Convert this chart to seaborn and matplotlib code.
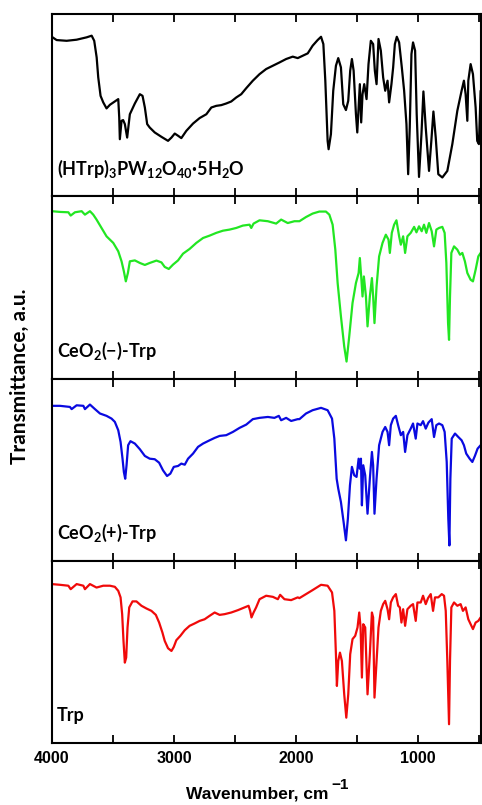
"""
Stacked FTIR spectra: (HTrp)3PW12O40.5H2O, CeO2(-)-Trp, CeO2(+)-Trp and Trp.
"""

import pandas as pd
import seaborn as sns
import matplotlib.pyplot as plt
from matplotlib.ticker import MultipleLocator

# wavenumber (cm-1) / transmittance (a.u., 0-100 per panel)
htrp_wn = [4002, 3962, 3880, 3798, 3716, 3675, 3654, 3634, 3621, 3602, 3580, 3553, 3525,
           3485, 3457, 3449, 3444, 3430, 3417, 3403, 3384, 3362, 3321, 3280, 3258, 3239,
           3220, 3199, 3158, 3103, 3049, 3021, 2994, 2967, 2940, 2899, 2844, 2790, 2735,
           2694, 2654, 2613, 2572, 2531, 2490, 2449, 2408, 2354, 2299, 2245, 2190, 2136,
           2081, 2027, 1986, 1945, 1904, 1864, 1823, 1795, 1776, 1760, 1741, 1733, 1714,
           1695, 1673, 1654, 1632, 1613, 1591, 1572, 1556, 1542, 1528, 1509, 1498, 1487,
           1477, 1466, 1455, 1441, 1422, 1406, 1387, 1368, 1354, 1340, 1324, 1305, 1286,
           1269, 1250, 1237, 1218, 1204, 1190, 1174, 1155, 1133, 1114, 1095, 1081, 1068,
           1054, 1041, 1024, 1011, 992, 972, 956, 937, 910, 891, 874, 855, 834, 801, 760,
           719, 678, 643, 624, 610, 596, 588, 569, 550, 528, 515, 501, 487]
htrp_t = [87.5, 85.7, 85.3, 85.9, 87.2, 88.1, 85.3, 76.2, 65.2, 55.1, 51.5, 48.2, 50.2,
          52.0, 53.3, 43.2, 31.3, 41.4, 41.8, 39.6, 32.2, 45.0, 50.9, 56.0, 55.1, 48.7,
          39.6, 37.7, 35.0, 32.6, 30.4, 32.2, 34.4, 33.2, 31.9, 35.9, 39.9, 42.9, 45.0,
          48.7, 49.6, 50.0, 50.9, 52.0, 54.2, 56.0, 59.3, 63.4, 67.0, 69.8, 71.6, 73.4,
          75.3, 76.6, 75.8, 77.1, 78.4, 82.6, 85.7, 87.5, 83.5, 63.4, 30.4, 25.8, 34.1,
          57.9, 71.6, 75.8, 70.7, 50.5, 47.3, 52.4, 68.9, 75.3, 68.9, 45.0, 35.0, 48.7,
          61.5, 40.5, 56.0, 61.5, 53.3, 72.5, 85.3, 83.5, 68.9, 61.5, 86.3, 79.9, 65.2,
          57.9, 63.4, 51.5, 61.5, 70.7, 83.5, 87.5, 84.4, 70.7, 57.9, 39.6, 12.1, 37.7,
          78.0, 84.4, 79.9, 45.0, 10.6, 34.1, 57.5, 37.7, 13.9, 30.4, 46.5, 32.2, 12.1,
          10.3, 13.9, 28.6, 46.9, 57.9, 63.4, 56.0, 41.4, 63.4, 72.5, 67.0, 48.7, 30.4,
          28.6, 57.9]

ceo2_neg_wn = [4002, 3934, 3866, 3847, 3812, 3757, 3730, 3689, 3662, 3635, 3594, 3553, 3498,
               3457, 3430, 3411, 3395, 3378, 3362, 3321, 3280, 3239, 3199, 3144, 3103, 3076,
               3043, 3008, 2967, 2926, 2872, 2817, 2762, 2708, 2654, 2599, 2545, 2490, 2436,
               2381, 2367, 2348, 2299, 2231, 2163, 2122, 2068, 2013, 1972, 1918, 1864, 1809,
               1755, 1727, 1700, 1678, 1659, 1632, 1605, 1586, 1564, 1537, 1509, 1487, 1477,
               1466, 1455, 1444, 1427, 1414, 1395, 1378, 1368, 1357, 1340, 1319, 1291, 1264,
               1242, 1231, 1215, 1196, 1177, 1155, 1141, 1122, 1106, 1087, 1060, 1032, 1013,
               992, 970, 951, 932, 910, 888, 869, 850, 828, 801, 782, 768, 754, 746, 738,
               727, 705, 678, 656, 637, 616, 596, 569, 550, 528, 506, 487]
ceo2_neg_t = [91.8, 91.4, 91.2, 89.4, 91.2, 91.8, 89.9, 91.8, 89.9, 87.2, 82.6, 78.0, 74.4,
              69.8, 64.3, 58.8, 53.3, 57.9, 64.3, 64.8, 63.4, 62.3, 63.4, 64.7, 63.7, 61.2,
              60.1, 62.5, 64.8, 68.5, 71.1, 74.4, 77.1, 78.4, 79.9, 81.1, 81.7, 82.6, 83.9,
              84.4, 82.6, 85.0, 86.8, 86.3, 85.0, 87.2, 85.3, 86.3, 86.3, 88.6, 90.5, 91.6,
              91.6, 89.9, 84.4, 70.7, 52.4, 34.1, 17.6, 9.3, 23.1, 41.4, 52.4, 57.9, 66.1,
              56.0, 45.0, 56.0, 45.0, 28.6, 45.0, 55.1, 45.0, 30.4, 50.5, 67.0, 74.4, 78.9,
              76.2, 68.9, 79.9, 84.4, 86.8, 78.0, 73.4, 78.0, 68.9, 78.0, 79.9, 83.2, 80.2,
              83.5, 80.8, 84.4, 79.9, 85.3, 80.8, 72.5, 81.7, 82.6, 83.2, 79.9, 63.4, 30.4,
              21.2, 45.0, 68.9, 72.5, 70.7, 67.9, 68.9, 64.3, 57.9, 54.2, 53.3, 59.7, 67.0,
              68.9]

ceo2_pos_wn = [4002, 3934, 3853, 3839, 3798, 3743, 3730, 3689, 3648, 3607, 3553, 3512, 3485,
               3457, 3438, 3422, 3411, 3400, 3389, 3376, 3357, 3321, 3280, 3239, 3199, 3158,
               3122, 3090, 3057, 3030, 3002, 2967, 2940, 2912, 2885, 2844, 2803, 2762, 2708,
               2667, 2626, 2572, 2517, 2463, 2408, 2354, 2299, 2231, 2177, 2141, 2122, 2081,
               2040, 1986, 1972, 1918, 1864, 1795, 1741, 1705, 1686, 1667, 1654, 1632, 1610,
               1591, 1575, 1558, 1542, 1523, 1504, 1487, 1477, 1468, 1460, 1449, 1433, 1414,
               1395, 1378, 1368, 1357, 1340, 1319, 1291, 1269, 1250, 1237, 1223, 1204, 1182,
               1163, 1141, 1122, 1106, 1087, 1060, 1041, 1019, 1005, 978, 959, 937, 915, 888,
               869, 850, 828, 801, 782, 765, 752, 743, 735, 724, 697, 670, 643, 624, 605, 577,
               555, 534, 512, 487]
ceo2_pos_t = [85.0, 85.0, 84.4, 83.2, 85.3, 85.0, 83.2, 85.7, 83.2, 80.8, 79.5, 78.0, 76.2,
              71.6, 65.2, 56.0, 48.7, 45.0, 52.4, 63.4, 65.6, 64.3, 61.2, 57.5, 56.0, 55.7,
              53.8, 49.6, 46.5, 47.8, 51.5, 52.0, 53.3, 52.7, 56.0, 58.8, 62.5, 64.3, 66.1,
              67.4, 68.5, 68.9, 70.7, 72.9, 74.7, 77.7, 78.4, 78.9, 78.4, 79.5, 77.1, 78.4,
              76.7, 77.7, 77.7, 80.8, 82.6, 83.9, 82.6, 78.0, 67.0, 45.0, 39.6, 32.2, 21.2,
              11.2, 23.1, 41.4, 51.5, 46.9, 46.0, 56.0, 50.5, 56.0, 30.4, 52.4, 46.9, 25.8,
              45.0, 59.7, 52.4, 25.8, 45.0, 63.4, 70.7, 73.4, 70.7, 63.4, 74.4, 78.0, 79.5,
              74.4, 68.9, 70.7, 59.7, 68.9, 72.5, 75.3, 67.0, 75.3, 74.4, 76.6, 72.5, 75.8,
              77.7, 67.9, 74.4, 75.3, 74.4, 70.7, 54.2, 23.1, 8.4, 45.0, 67.0, 69.8, 67.9,
              66.1, 63.4, 58.8, 56.0, 54.2, 57.5, 61.5, 63.4]

trp_wn = [4002, 3934, 3866, 3847, 3798, 3743, 3730, 3689, 3635, 3580, 3525, 3485, 3457,
          3438, 3425, 3414, 3403, 3392, 3381, 3367, 3340, 3308, 3267, 3226, 3185, 3149,
          3122, 3095, 3076, 3049, 3021, 3002, 2981, 2948, 2912, 2872, 2831, 2790, 2749,
          2708, 2667, 2626, 2585, 2531, 2476, 2422, 2389, 2376, 2365, 2348, 2327, 2299,
          2245, 2190, 2149, 2130, 2095, 2040, 1986, 1972, 1918, 1864, 1795, 1741, 1705,
          1686, 1673, 1665, 1654, 1640, 1624, 1605, 1588, 1572, 1556, 1537, 1515, 1496,
          1482, 1471, 1460, 1449, 1433, 1414, 1395, 1378, 1368, 1357, 1340, 1324, 1305,
          1286, 1269, 1250, 1237, 1223, 1204, 1182, 1163, 1149, 1136, 1122, 1106, 1087,
          1060, 1041, 1019, 1005, 978, 959, 937, 918, 896, 877, 861, 834, 806, 787, 773,
          760, 746, 738, 727, 705, 678, 651, 632, 610, 588, 569, 550, 528, 506, 487]
trp_t = [87.2, 86.8, 86.3, 84.4, 87.2, 86.3, 84.4, 87.2, 85.3, 86.3, 86.3, 85.7, 83.5,
         79.9, 70.7, 56.0, 44.1, 46.9, 63.4, 74.4, 77.7, 77.7, 75.3, 73.8, 72.5, 70.3,
         66.1, 60.6, 56.0, 52.0, 50.5, 52.7, 56.4, 58.8, 61.9, 64.3, 65.6, 67.0, 67.9,
         69.8, 71.6, 70.3, 70.7, 71.6, 72.9, 74.4, 75.3, 72.5, 68.9, 71.6, 74.4, 78.9,
         80.8, 80.2, 78.9, 81.3, 78.9, 78.4, 79.9, 79.5, 81.7, 83.9, 86.8, 86.3, 82.6,
         72.5, 48.7, 31.3, 45.0, 49.6, 45.0, 26.7, 13.9, 26.7, 48.7, 57.0, 58.8, 63.4,
         71.6, 63.4, 35.9, 65.2, 63.4, 26.7, 48.7, 71.6, 68.9, 24.9, 45.0, 63.4, 72.5,
         76.2, 78.0, 73.4, 67.9, 77.1, 79.9, 81.7, 75.3, 74.4, 66.1, 73.4, 64.3, 73.4,
         75.3, 76.2, 67.0, 77.1, 77.1, 80.8, 76.2, 79.5, 81.7, 72.5, 79.9, 79.9, 81.7,
         80.8, 72.5, 45.0, 10.3, 45.0, 74.4, 77.1, 75.3, 76.2, 72.5, 74.4, 67.9, 65.2,
         62.5, 66.1, 67.0, 68.9]

labels = ["(HTrp)$_3$PW$_{12}$O$_{40}$\u00b75H$_2$O", "CeO$_2$(\u2212)-Trp",
          "CeO$_2$(+)-Trp", "Trp"]
colors = ["black", "#22e622", "#0a0ae0", "#f00a0a"]
spectra = [(htrp_wn, htrp_t), (ceo2_neg_wn, ceo2_neg_t),
           (ceo2_pos_wn, ceo2_pos_t), (trp_wn, trp_t)]

sns.set_style("white")
plt.rcParams["font.family"] = ["Lato", "DejaVu Sans"]
plt.rcParams["text.color"] = "black"
plt.rcParams["xtick.color"] = "black"
plt.rcParams["axes.labelcolor"] = "black"
plt.rcParams["mathtext.fontset"] = "custom"
plt.rcParams["mathtext.rm"] = "Lato:bold"
plt.rcParams["mathtext.bf"] = "Lato:bold"
plt.rcParams["mathtext.it"] = "Lato:bold"

fig, axes = plt.subplots(4, 1, sharex=True, figsize=(4.82, 8.05), dpi=100)
fig.subplots_adjust(left=52 / 482, right=481 / 482, top=1 - 14 / 805,
                    bottom=1 - 743 / 805, hspace=0)

for ax, (wn, t), label, color in zip(axes, spectra, labels, colors):
    df = pd.DataFrame({"wn": wn, "T": t})
    sns.lineplot(data=df, x="wn", y="T", ax=ax, color=color, lw=1.6,
                 estimator=None, sort=False)
    ax.set_ylim(0, 100)
    ax.set_yticks([])
    ax.set_ylabel("")
    ax.set_xlabel("")
    for sp in ax.spines.values():
        sp.set_linewidth(1.5)
        sp.set_color("black")
    ax.xaxis.set_major_locator(MultipleLocator(1000))
    ax.xaxis.set_minor_locator(MultipleLocator(500))
    ax.tick_params(axis="x", which="both", direction="in", top=True, bottom=True,
                   length=6, width=1.3, color="black", labelcolor="black")
    ax.text(0.012, 0.15, label, transform=ax.transAxes, fontsize=13,
            fontweight="bold", va="center", ha="left", color="black")

axes[0].set_xlim(4000, 484)
for ax in axes[:-1]:
    ax.tick_params(axis="x", labelbottom=False)
for lab in axes[-1].get_xticklabels():
    lab.set_fontfamily("Liberation Sans")
    lab.set_fontweight("bold")
    lab.set_fontsize(11.5)
axes[-1].tick_params(axis="x", pad=6)

fig.text(329 / 482, 1 - 794 / 805, "Wavenumber, cm", ha="right", va="center",
         fontsize=12.5, fontweight="bold", family="Liberation Sans", color="black")
fig.text(331 / 482, 1 - 785 / 805, "\u22121", ha="left", va="center",
         fontsize=11, fontweight="bold", family="Liberation Sans", color="black")
fig.text(20 / 482, 1 - 376 / 805, "Transmittance, a.u.", rotation=90, ha="center",
         va="center", fontsize=15, fontweight="bold", color="black")

plt.savefig("out.png", dpi=100)
